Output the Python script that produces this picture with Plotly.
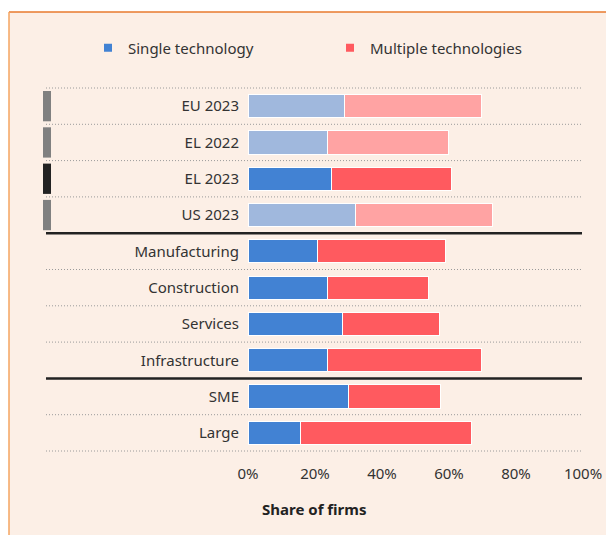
import plotly.graph_objects as go

# categories, top to bottom
categories = ["EU 2023", "EL 2022", "EL 2023", "US 2023",
              "Manufacturing", "Construction", "Services", "Infrastructure",
              "SME", "Large"]
single_tech = [28.7, 23.7, 24.8, 32.0, 20.7, 23.7, 28.2, 23.8, 29.9, 15.7]
multiple_tech = [40.9, 36.0, 36.0, 41.0, 38.3, 30.2, 29.0, 45.9, 27.7, 50.9]
# light shade for the comparison rows
highlight = [False, False, True, False, True, True, True, True, True, True]
x_ticks = [0, 20, 40, 60, 80, 100]
x_tick_labels = ["0%", "20%", "40%", "60%", "80%", "100%"]

BLUE, BLUE_LIGHT = "#4282D3", "#A0B8DD"
RED, RED_LIGHT = "#FF5A5F", "#FFA3A3"
BG = "#FCEFE6"
TXT = "#333333"
FONT = "Noto Sans"

n = len(categories)
W, H = 606, 535
L, R, T, B = 248, 23, 88, 84
pw, ph = W - L - R, H - T - B


def px_x(p):
    return (p - L) / pw


def px_y(p):
    return (H - B - p) / ph


fig = go.Figure()
fig.add_trace(go.Bar(
    y=categories, x=single_tech, orientation="h", name="Single technology",
    marker=dict(color=[BLUE if h else BLUE_LIGHT for h in highlight],
                line=dict(color="white", width=1)),
    width=0.64, showlegend=False))
fig.add_trace(go.Bar(
    y=categories, x=multiple_tech, orientation="h", name="Multiple technologies",
    marker=dict(color=[RED if h else RED_LIGHT for h in highlight],
                line=dict(color="white", width=1)),
    width=0.64, showlegend=False))

# legend-only entries, two separate legends for positioning
fig.add_trace(go.Scatter(x=[None], y=[None], mode="markers", name="Single technology",
                         marker=dict(symbol="square", size=8, color=BLUE), legend="legend"))
fig.add_trace(go.Scatter(x=[None], y=[None], mode="markers", name="Multiple technologies",
                         marker=dict(symbol="square", size=8, color=RED), legend="legend2"))

shapes = []
# panel background with orange border
shapes.append(dict(type="rect", xref="paper", yref="paper", layer="below",
                   x0=px_x(9), x1=px_x(W + 10), y0=px_y(H + 10), y1=px_y(12),
                   fillcolor=BG, line=dict(width=0)))
shapes.append(dict(type="line", xref="paper", yref="paper",
                   x0=px_x(9), x1=px_x(W + 10), y0=px_y(12), y1=px_y(12),
                   line=dict(color="#E87A2E", width=1.5)))
shapes.append(dict(type="line", xref="paper", yref="paper",
                   x0=px_x(9), x1=px_x(9), y0=px_y(12), y1=px_y(H + 10),
                   line=dict(color="#F4A460", width=1.5)))

# row separators
for k in range(n + 1):
    yk = 1 - k / n
    solid = k in (4, 8)
    shapes.append(dict(type="line", xref="paper", yref="paper",
                       x0=px_x(46), x1=px_x(582), y0=yk, y1=yk,
                       line=dict(color="#222222" if solid else "#9A9A9A",
                                 width=2.5 if solid else 1,
                                 dash="solid" if solid else "1px,2px")))

# markers for the country rows
for i in range(4):
    top = 1 - i / n
    shapes.append(dict(type="rect", xref="paper", yref="paper",
                       x0=px_x(43), x1=px_x(51),
                       y0=top - 1 / n + 3 / ph, y1=top - 3 / ph,
                       fillcolor="#222222" if categories[i] == "EL 2023" else "#808080",
                       line=dict(width=0)))

leg_style = dict(orientation="h", xref="container", yref="container",
                 xanchor="left", yanchor="middle", y=1 - 48 / H,
                 bgcolor="rgba(0,0,0,0)", font=dict(size=15, color=TXT))

fig.update_layout(
    width=W, height=H,
    margin=dict(l=L, r=R, t=T, b=B, autoexpand=False),
    paper_bgcolor="white", plot_bgcolor="rgba(0,0,0,0)",
    barmode="stack",
    font=dict(family=FONT, size=14, color=TXT),
    shapes=shapes,
    legend=dict(leg_style, x=88 / W),
    legend2=dict(leg_style, x=330 / W),
    annotations=[dict(text="<b>Share of firms</b>", xref="paper", yref="paper",
                      x=px_x(314), y=px_y(509), xanchor="center", yanchor="middle",
                      showarrow=False, font=dict(size=15, color="#222222"))],
)
fig.update_xaxes(range=[0, 100], tickvals=x_ticks, ticktext=x_tick_labels,
                 showgrid=False, zeroline=False, showline=False, ticks="",
                 ticklabelstandoff=12, tickfont=dict(size=15), automargin=False)
fig.update_yaxes(categoryorder="array", categoryarray=categories, autorange="reversed",
                 showgrid=False, zeroline=False, showline=False, ticks="",
                 ticklabelstandoff=8, tickfont=dict(size=15), automargin=False)

fig.write_html("out.html", config={"displayModeBar": False},
               post_script="document.body.style.margin='0';document.body.style.overflow='hidden';")
